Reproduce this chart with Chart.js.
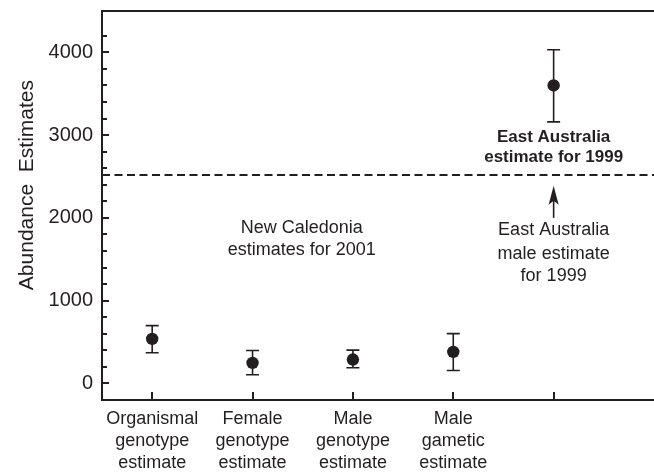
<!DOCTYPE html>
<html><head><meta charset="utf-8">
<script src="https://cdn.jsdelivr.net/npm/chart.js@4.4.1/dist/chart.umd.min.js"></script>
<style>html,body{margin:0;padding:0;background:#fff}#wrap{width:654px;height:472px;position:relative}</style>
</head><body><div id="wrap"><canvas id="c" width="654" height="472"></canvas></div>
<script>
// ---- data ----
const categories = [
  ['Organismal','genotype','estimate'],
  ['Female','genotype','estimate'],
  ['Male','genotype','estimate'],
  ['Male','gametic','estimate'],
  ''
];
const estimates   = [538, 249, 289, 382, 3600];
const lowerBounds = [370, 105, 189, 157, 3160];
const upperBounds = [699, 398, 402, 602, 4032];
const maleEstimate1999 = 2520;
const yTickLabels = [0, 1000, 2000, 3000, 4000];
const yAxisTitle = 'Abundance  Estimates';

const noteNewCaledonia = ['New Caledonia', 'estimates for 2001'];
const noteEastAus = ['East Australia', 'estimate for 1999'];
const noteEastAusMale = ['East Australia', 'male estimate', 'for 1999'];

// ---- styling / layout ----
const INK = '#231f20';
const FONT = "'Liberation Sans', Arial, Helvetica, sans-serif";

const annotations = [
  {lines: noteNewCaledonia, x: 2.49, y: [1880, 1614], weight: 'normal', size: 18},
  {lines: noteEastAus, x: 5.0, y: [2976, 2735], weight: 'bold', size: 17},
  {lines: noteEastAusMale, x: 5.0, y: [1855, 1566, 1301], weight: 'normal', size: 18}
];
const arrow = {x: 5.0, from: 2000, to: 2390};

const decorPlugin = {
  id: 'decor',
  afterDatasetsDraw(chart) {
    const {ctx, chartArea: a, scales: {x, y}} = chart;
    ctx.save();
    ctx.strokeStyle = INK;
    ctx.fillStyle = INK;
    // top frame line
    ctx.lineWidth = 2;
    ctx.beginPath(); ctx.moveTo(a.left - 1, a.top); ctx.lineTo(a.right, a.top); ctx.stroke();
    // y ticks (inside)
    y.ticks.forEach(t => {
      if (t.value <= y.min || t.value >= y.max) return;
      const py = Math.round(y.getPixelForValue(t.value));
      const len = yTickLabels.includes(t.value) ? 7 : 5;
      ctx.lineWidth = 2;
      ctx.beginPath(); ctx.moveTo(a.left, py); ctx.lineTo(a.left + len, py); ctx.stroke();
    });
    // x ticks (inside)
    x.ticks.forEach(t => {
      const px = Math.round(x.getPixelForValue(t.value));
      ctx.lineWidth = 2;
      ctx.beginPath(); ctx.moveTo(px, a.bottom); ctx.lineTo(px, a.bottom - 8); ctx.stroke();
    });
    // error bars
    ctx.lineWidth = 1.6;
    estimates.forEach((v, i) => {
      const px = x.getPixelForValue(i + 1);
      const lo = y.getPixelForValue(lowerBounds[i]);
      const hi = y.getPixelForValue(upperBounds[i]);
      ctx.beginPath();
      ctx.moveTo(px, lo); ctx.lineTo(px, hi);
      ctx.moveTo(px - 6.5, lo); ctx.lineTo(px + 6.5, lo);
      ctx.moveTo(px - 6.5, hi); ctx.lineTo(px + 6.5, hi);
      ctx.stroke();
    });
    // arrow
    const ax = x.getPixelForValue(arrow.x);
    const ay0 = y.getPixelForValue(arrow.from);
    const ay1 = y.getPixelForValue(arrow.to);
    ctx.lineWidth = 1.6;
    ctx.beginPath(); ctx.moveTo(ax, ay0); ctx.lineTo(ax, ay1 + 10); ctx.stroke();
    ctx.beginPath();
    ctx.moveTo(ax, ay1);
    ctx.lineTo(ax - 5, ay1 + 19);
    ctx.lineTo(ax, ay1 + 15);
    ctx.lineTo(ax + 5, ay1 + 19);
    ctx.closePath(); ctx.fill();
    // annotations
    ctx.textAlign = 'center';
    ctx.textBaseline = 'middle';
    annotations.forEach(n => {
      ctx.font = `${n.weight} ${n.size}px ${FONT}`;
      n.lines.forEach((s, j) => {
        ctx.fillText(s, x.getPixelForValue(n.x), y.getPixelForValue(n.y[j]));
      });
    });
    ctx.restore();
  }
};

function zeroPad(s) { s.paddingTop = 0; s.paddingBottom = 0; s.paddingLeft = 0; s.paddingRight = 0; }

new Chart(document.getElementById('c'), {
  type: 'scatter',
  data: {
    datasets: [
      {
        data: estimates.map((v, i) => ({x: i + 1, y: v})),
        backgroundColor: INK, borderColor: INK,
        pointRadius: 6.2, pointHoverRadius: 6.2, borderWidth: 0
      },
      {
        type: 'line',
        data: [{x: 0.5, y: maleEstimate1999}, {x: 6, y: maleEstimate1999}],
        borderColor: INK, borderWidth: 2, borderDash: [8, 4.5],
        pointRadius: 0, fill: false
      }
    ]
  },
  options: {
    responsive: false,
    devicePixelRatio: 1,
    animation: false,
    layout: {autoPadding: false, padding: {top: 11, right: 0, left: 0, bottom: 0}},
    plugins: {legend: {display: false}, tooltip: {enabled: false}},
    scales: {
      x: {
        type: 'linear', min: 0.5, max: 6,
        afterBuildTicks: s => { s.ticks = categories.map((c, i) => ({value: i + 1})); },
        afterFit: s => { s.height = 72; zeroPad(s); },
        grid: {display: false, drawTicks: false},
        border: {display: true, color: INK, width: 2},
        ticks: {
          autoSkip: false, maxRotation: 0, padding: 8,
          color: INK, font: {family: FONT, size: 18, lineHeight: 1.22},
          callback: (v) => categories[Math.round(v) - 1]
        }
      },
      y: {
        type: 'linear', min: -200, max: 4500,
        afterFit: s => { s.width = 102; zeroPad(s); },
        grid: {display: false, drawTicks: false},
        border: {display: true, color: INK, width: 2},
        ticks: {
          stepSize: 200, autoSkip: false, padding: 9,
          color: INK, font: {family: FONT, size: 20},
          callback: v => yTickLabels.includes(v) ? String(v) : ''
        },
        title: {
          display: true, text: '       ' + yAxisTitle, color: INK,
          font: {family: FONT, size: 21}, padding: {top: 15, bottom: 0}
        }
      }
    }
  },
  plugins: [decorPlugin]
});
</script></body></html>
